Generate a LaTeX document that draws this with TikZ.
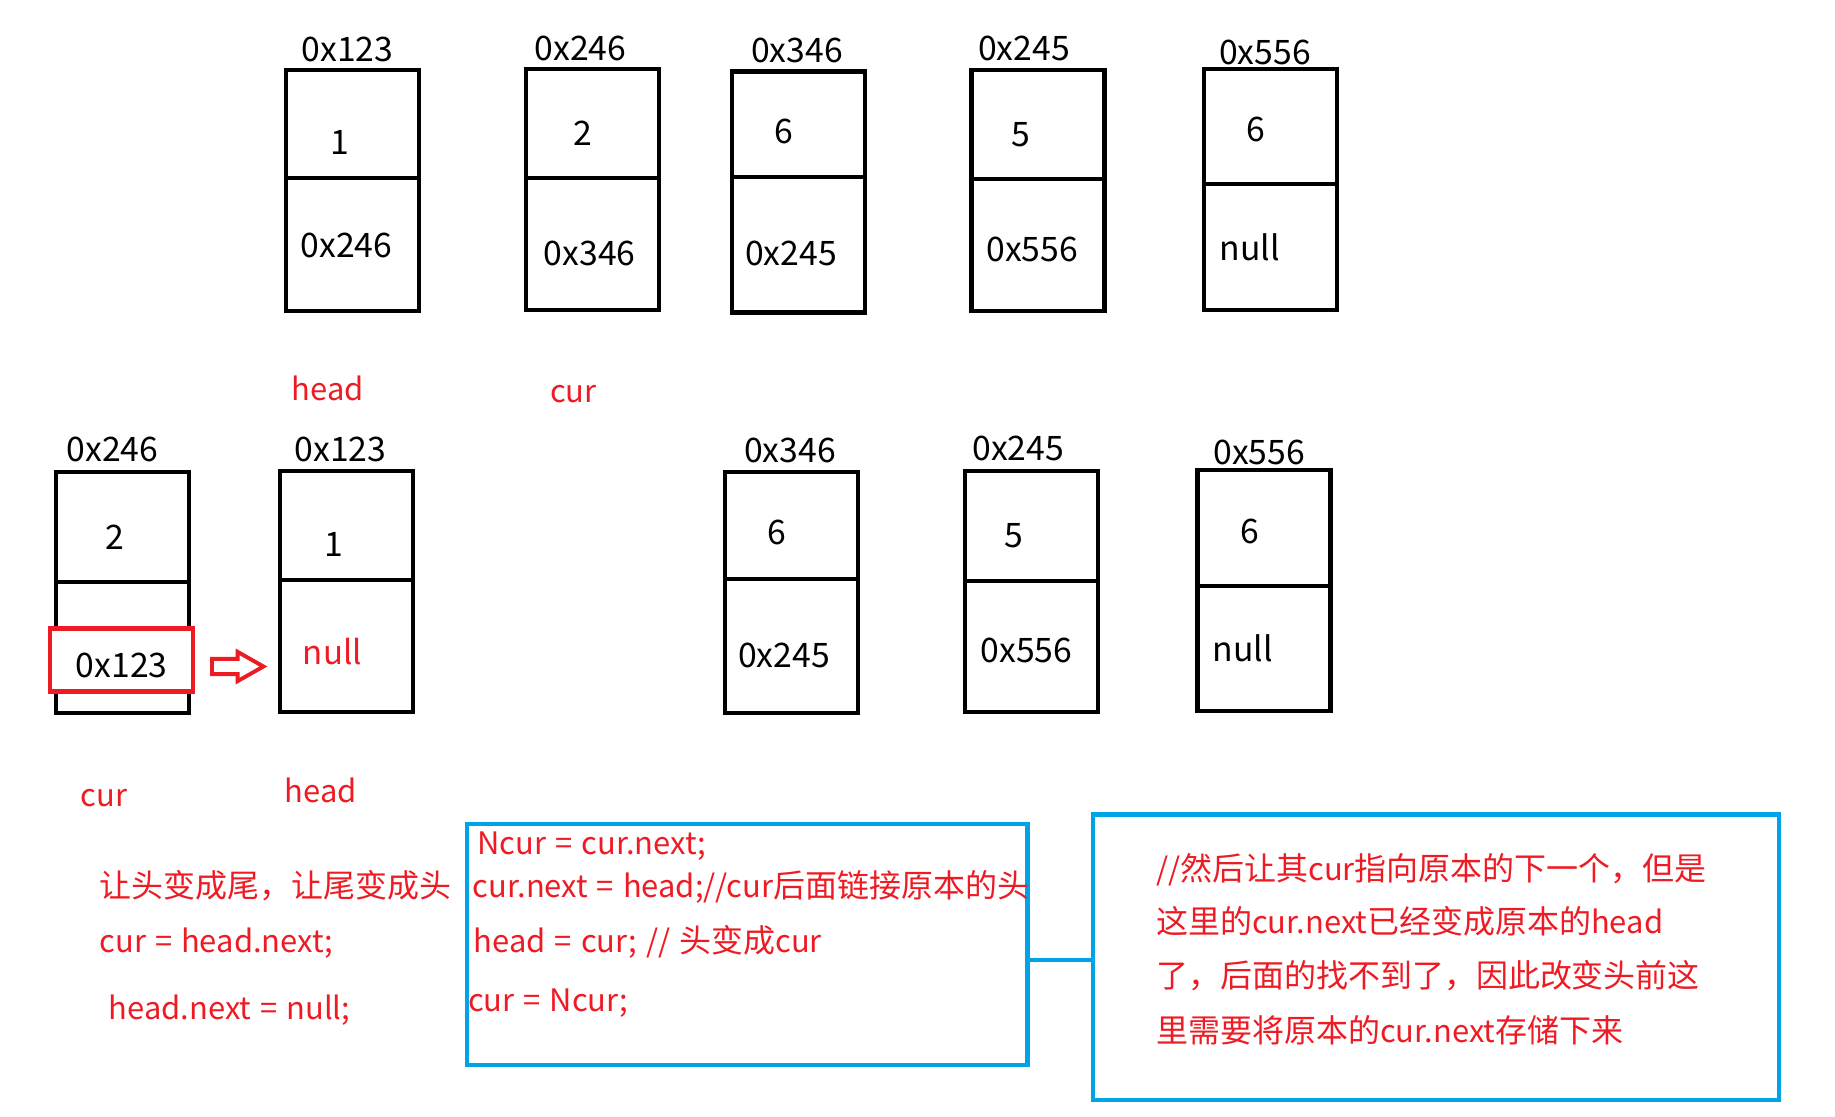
\documentclass[tikz,border=0pt]{standalone}
\usepackage{fontspec}
\setmainfont[WordSpace=1.3]{Noto Sans CJK SC}
\newfontfamily\hanzi[Scale=1.034]{Noto Sans CJK SC}
\usepackage{tikz}
\usetikzlibrary{positioning,calc}
\definecolor{MarkRed}{HTML}{ED1C24}
\definecolor{FrameBlue}{HTML}{00A2E8}

\begin{document}
\begin{tikzpicture}[x=0.011703cm, y=-0.011703cm,
    every node/.style={inner sep=0pt, outer sep=0pt},
    cell/.style={draw=black, line width=1.2pt, minimum width=1.33cm, minimum height=2.41cm},
    divider/.style={draw=black, line width=1.2pt},
    addr/.style={font=\fontsize{9.6}{11}\selectfont},
    note/.style={font=\fontsize{8.8}{11}\selectfont, text=MarkRed},
    frame/.style={draw=FrameBlue, line width=1.2pt},
    codeline/.style={note, anchor=base west}]
  \useasboundingbox (0,0) rectangle (1568,954);

  \node[cell] (a1) at (301.5,163) {};
  \node[cell] (a2) at (506.5,162) {};
  \node[cell] (a3) at (682,164)   {};
  \node[cell] (a4) at (887,163)   {};
  \node[cell] (a5) at (1085.5,162) {};
  \draw[divider] ($(a1.north west)+(0,92)$) -- ($(a1.north east)+(0,92)$);
  \draw[divider] ($(a2.north west)+(0,93)$) -- ($(a2.north east)+(0,93)$);
  \draw[divider] ($(a3.north west)+(0,90)$) -- ($(a3.north east)+(0,90)$);
  \draw[divider] ($(a4.north west)+(0,93)$) -- ($(a4.north east)+(0,93)$);
  \draw[divider] ($(a5.north west)+(0,98)$) -- ($(a5.north east)+(0,98)$);

  \node[addr] (a1addr) at (297,42)  {0x123};
  \node[addr] (a2addr) at (496,41)  {0x246};
  \node[addr] (a3addr) at (681,43)  {0x346};
  \node[addr] (a4addr) at (875,41)  {0x245};
  \node[addr] (a5addr) at (1081,45) {0x556};
  \node[addr] (a1val) at (290,122)  {1};
  \node[addr] (a2val) at (498,114)  {2};
  \node[addr] (a3val) at (670,112)  {6};
  \node[addr] (a4val) at (872,115)  {5};
  \node[addr] (a5val) at (1073,111) {6};
  \node[addr] (a1nxt) at (296,210)  {0x246};
  \node[addr] (a2nxt) at (504,217)  {0x346};
  \node[addr] (a3nxt) at (676,217)  {0x245};
  \node[addr] (a4nxt) at (882,213)  {0x556};
  \node[addr] (a5nxt) at (1068,211) {null};

  \node[note] (headA) at (280,332) {head};
  \node[note] (curA)  at (490,337) {cur};

  \node[cell] (b1) at (105,506.5)  {};
  \node[cell] (b2) at (296,505.5)  {};
  \node[cell] (b3) at (676.5,506.5) {};
  \node[cell] (b4) at (881.5,505.5) {};
  \node[cell] (b5) at (1080,504.5) {};
  \draw[divider] ($(b1.north west)+(0,94)$) -- ($(b1.north east)+(0,94)$);
  \draw[divider] ($(b2.north west)+(0,93)$) -- ($(b2.north east)+(0,93)$);
  \draw[divider] ($(b3.north west)+(0,91)$) -- ($(b3.north east)+(0,91)$);
  \draw[divider] ($(b4.north west)+(0,94)$) -- ($(b4.north east)+(0,94)$);
  \draw[divider] ($(b5.north west)+(0,99)$) -- ($(b5.north east)+(0,99)$);

  \node[draw=MarkRed, fill=white, line width=1.2pt, minimum width=1.43cm,
        minimum height=0.63cm] (ptr) at (104,564) {};
  \draw[MarkRed, line width=1.1pt, line join=miter]
    ($(ptr.east)+(16,-1)$) -- ++(22,0) -- ++(0,-6) -- ++(22,12.5)
    -- ++(-22,12.5) -- ++(0,-6) -- ++(-22,0) -- cycle;

  \node[addr] (b1addr) at (96,384)   {0x246};
  \node[addr] (b2addr) at (291,384)  {0x123};
  \node[addr] (b3addr) at (675,385)  {0x346};
  \node[addr] (b4addr) at (870,383)  {0x245};
  \node[addr] (b5addr) at (1076,387) {0x556};
  \node[addr] (b1val) at (98,459)   {2};
  \node[addr] (b2val) at (285,465)  {1};
  \node[addr] (b3val) at (664,455)  {6};
  \node[addr] (b4val) at (866,458)  {5};
  \node[addr] (b5val) at (1068,454) {6};
  \node[addr] (b1nxt) at (104,569)  {0x123};
  \node[note, font=\fontsize{9.4}{11}\selectfont] (b2nxt) at (284,557) {null};
  \node[addr] (b3nxt) at (670,560)  {0x245};
  \node[addr] (b4nxt) at (877,556)  {0x556};
  \node[addr] (b5nxt) at (1062,554) {null};

  \node[note] (curB)  at (89,682)  {cur};
  \node[note] (headB) at (274,675) {head};

  \node[codeline] (step1) at (85,767) {{\hanzi 让头变成尾，让尾变成头}};
  \node[codeline] (step2) at (85,814) {cur = head.next;};
  \node[codeline] (step3) at (93,871) {head.next = null;};

  \node[frame, minimum width=5.606cm, minimum height=2.411cm] (code) at (638.5,807) {};
  \node[codeline] (code1) at (408,730) {Ncur = cur.next;};
  \node[codeline] (code2) at (404,767) {cur.next = head;//cur{\hanzi 后面链接原本的头}};
  \node[codeline] (code3) at (405,814) {head = cur; // {\hanzi 头变成}cur};
  \node[codeline] (code4) at (400,864) {cur = Ncur;};

  \node[frame, minimum width=6.858cm, minimum height=2.856cm] (memo) at (1227,818) {};
  \node[codeline] (memo1) at (988,752) {//{\hanzi 然后让其}cur{\hanzi 指向原本的下一个，但是}};
  \node[codeline] (memo2) at (988,798) {{\hanzi 这里的}cur.next{\hanzi 已经变成原本的}head};
  \node[codeline] (memo3) at (988,844) {{\hanzi 了，后面的找不到了，因此改变头前这}};
  \node[codeline] (memo4) at (988,891) {{\hanzi 里需要将原本的}cur.next{\hanzi 存储下来}};

  \draw[FrameBlue, line width=1.2pt] ($(code.east)+(0,13)$) -- ($(memo.west)+(0,2)$);
\end{tikzpicture}
\end{document}
